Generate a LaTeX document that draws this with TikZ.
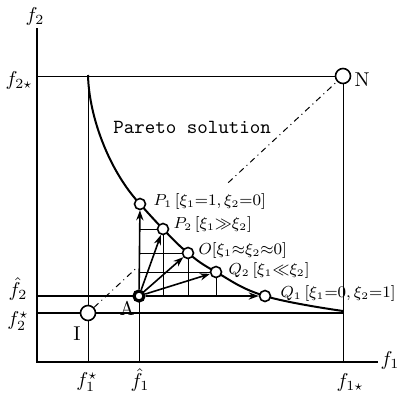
\documentclass[tikz,border=0pt]{standalone}
\usetikzlibrary{arrows.meta,calc}
\tikzset{pt/.style={circle, draw, thick, fill=white, inner sep=0pt, minimum size=5.5pt},
  bigpt/.style={pt, minimum size=7.5pt},
  vec/.style={thick, -{Stealth[length=5pt,width=3.6pt]}},
  lbl/.style={font=\fontsize{7.6}{9}\selectfont, anchor=west, inner sep=1pt},
  ax/.style={inner sep=1pt}}

\begin{document}
\begin{tikzpicture}[x=0.5pt, y=-0.5pt, line width=0.5pt]
  \useasboundingbox (0,0) rectangle (400,392);
  \coordinate (o) at (37,362);
  \coordinate (ytop) at (37,28);
  \coordinate (xend) at (378,362);
  \coordinate (n) at (343,76);
  \coordinate (i) at (88,313);
  \coordinate (a) at (139,296);
  \coordinate (p1) at (140,204);
  \coordinate (p2) at (163,229);
  \coordinate (q0) at (188,253);
  \coordinate (q2) at (216,272);
  \coordinate (q1) at (265,296);
  % frame lines
  \draw[line width=1.2pt] (ytop) -- (o) -- (xend);
  \draw (o |- n) -- (n) -- (n |- o);
  \draw (i |- n) -- (i |- o);
  \draw[line width=0.9pt] (o |- i) -- (n |- i);
  \draw[line width=1pt] (o |- a) -- (a);
  \draw (a) -- (a |- o);
  % grid under the curve
  \foreach \p in {p2,q0,q2} {
    \draw (\p) -- (\p |- a);
    \draw (a |- \p) -- (\p);
  }
  % pareto curve
  \draw[line width=1pt] (88,75) .. controls (89,118) and (110,172) .. (p1)
    plot[smooth, tension=0.7] coordinates {(p1) (p2) (q0) (q2) (q1) (343,311)};
  % points
  \node[bigpt] (N) at (n) {};
  \node[bigpt] (I) at (i) {};
  \node[pt] (P1) at (p1) {};
  \node[pt] (P2) at (p2) {};
  \node[pt] (O) at (q0) {};
  \node[pt] (Q2) at (q2) {};
  \node[pt] (Q1) at (q1) {};
  \node[circle, draw, line width=1.6pt, fill=white, inner sep=0pt, minimum size=5pt] (A) at (a) {};
  \draw[dash dot] (I) -- ($(I)!0.19!(N)$);
  \draw[dash dot] ($(I)!0.55!(N)$) -- (N);
  \foreach \p in {P1,P2,O,Q2,Q1}
    \draw[vec] (A) -- (\p);
  % texts
  \node[ax] at (35,16) {$f_2$};
  \node[ax] at (390,360) {$f_1$};
  \node[ax] at (19,80) {$f_{2\star}$};
  \node[ax] at (18,289) {$\hat{f}_2$};
  \node[ax] at (18,321) {$f_2^{\star}$};
  \node[ax] at (87,382) {$f_1^{\star}$};
  \node[ax] at (140,380) {$\hat{f}_1$};
  \node[ax] at (350,382) {$f_{1\star}$};
  \node[ax] at (362,80) {N};
  \node[ax] at (77,334) {I};
  \node[ax] at (127,308) {A};
  \node[font=\ttfamily] at (192,127) {Pareto solution};
  \node[lbl] at (151,201) {$P_1\,[\xi_1{=}1,\xi_2{=}0]$};
  \node[lbl] at (171,224) {$P_2\,[\xi_1{\gg}\xi_2]$};
  \node[lbl] at (196,250) {$O[\xi_1{\approx}\xi_2{\approx}0]$};
  \node[lbl] at (226,270) {$Q_2\,[\xi_1{\ll}\xi_2]$};
  \node[lbl] at (278,293) {$Q_1\,[\xi_1{=}0,\xi_2{=}1]$};
\end{tikzpicture}
\end{document}
